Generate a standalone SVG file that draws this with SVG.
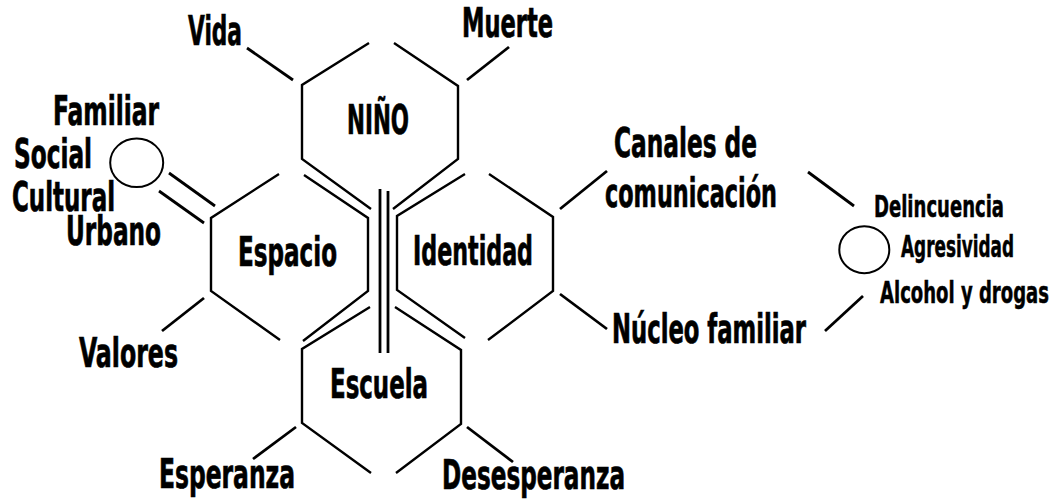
<svg xmlns="http://www.w3.org/2000/svg" width="1055" height="499" viewBox="0 0 1055 499">
<style>
.hx{fill:none;stroke:#000;stroke-width:2.4;stroke-linecap:butt;stroke-linejoin:miter}
.ln{fill:none;stroke:#000;stroke-width:2.8;stroke-linecap:butt}
.el{fill:#fff;stroke:#000;stroke-width:2}
.t{font-family:"Liberation Sans Narrow","DejaVu Sans Condensed","Liberation Sans",sans-serif;font-weight:bold;font-size:40px;fill:#000;stroke:#000;stroke-width:0.7}
.s{font-size:30px;stroke-width:0.5}
</style>
<rect width="1055" height="499" fill="#fff"/>
<g id="nino">
<path class="hx" d="M369,43 L302,85 L302,159 L371,209"/>
<path class="hx" d="M394,43 L458,86 L458,159 L393,209"/>
<text class="t" x="347" y="134" textLength="62" lengthAdjust="spacingAndGlyphs">NIÑO</text>
</g>
<g id="espacio">
<path class="hx" d="M279,174 L211,218 L211,291 L280,340"/>
<path class="hx" d="M304,175 L368,218 L368,291 L303,341"/>
<text class="t" x="238" y="266" textLength="99" lengthAdjust="spacingAndGlyphs">Espacio</text>
</g>
<g id="identidad">
<path class="hx" d="M465,174 L397,216 L397,290 L465,338"/>
<path class="hx" d="M489,174 L553,217 L553,291 L488,340"/>
<text class="t" x="413" y="265" textLength="120" lengthAdjust="spacingAndGlyphs">Identidad</text>
</g>
<g id="escuela">
<path class="hx" d="M370,307 L302,349 L302,423 L371,473"/>
<path class="hx" d="M395,307 L461,350 L461,424 L396,473"/>
<text class="t" x="330" y="398" textLength="98" lengthAdjust="spacingAndGlyphs">Escuela</text>
</g>
<g id="vida"><text class="t" x="188" y="45" textLength="54" lengthAdjust="spacingAndGlyphs">Vida</text></g>
<g id="muerte"><text class="t" x="462" y="37" textLength="91" lengthAdjust="spacingAndGlyphs">Muerte</text></g>
<g id="familiar"><text class="t" x="53" y="125" textLength="106" lengthAdjust="spacingAndGlyphs">Familiar</text></g>
<g id="social"><text class="t" x="14" y="168" textLength="78" lengthAdjust="spacingAndGlyphs">Social</text></g>
<g id="cultural"><text class="t" x="12" y="211" textLength="103" lengthAdjust="spacingAndGlyphs">Cultural</text></g>
<g id="urbano"><text class="t" x="66" y="245" textLength="95" lengthAdjust="spacingAndGlyphs">Urbano</text></g>
<g id="valores"><text class="t" x="79" y="367" textLength="99" lengthAdjust="spacingAndGlyphs">Valores</text></g>
<g id="esperanza"><text class="t" x="159" y="488" textLength="136" lengthAdjust="spacingAndGlyphs">Esperanza</text></g>
<g id="desesperanza"><text class="t" x="442" y="489" textLength="183" lengthAdjust="spacingAndGlyphs">Desesperanza</text></g>
<g id="canales">
<text class="t" x="614" y="157" textLength="143" lengthAdjust="spacingAndGlyphs">Canales de</text>
<text class="t" x="605" y="207" textLength="172" lengthAdjust="spacingAndGlyphs">comunicación</text>
</g>
<g id="nucleo"><text class="t" x="612" y="343" textLength="194" lengthAdjust="spacingAndGlyphs">Núcleo familiar</text></g>
<g id="delincuencia"><text class="t s" x="874" y="217" textLength="130" lengthAdjust="spacingAndGlyphs">Delincuencia</text></g>
<g id="agresividad"><text class="t s" x="901" y="257" textLength="113" lengthAdjust="spacingAndGlyphs">Agresividad</text></g>
<g id="alcohol"><text class="t s" x="880" y="303" textLength="169" lengthAdjust="spacingAndGlyphs">Alcohol y drogas</text></g>
<g id="circulo-izq"><ellipse class="el" cx="136.7" cy="162.8" rx="26.5" ry="24.3"/></g>
<g id="circulo-der"><ellipse class="el" cx="864.3" cy="249.7" rx="25" ry="23.5"/></g>
<g id="connectors">
<line class="ln" x1="380" y1="189" x2="380" y2="353"/>
<line class="ln" x1="388" y1="191" x2="388" y2="353"/>
<line class="ln" x1="247" y1="48" x2="293" y2="80"/>
<line class="ln" x1="467" y1="80" x2="509" y2="47"/>
<line class="ln" x1="169" y1="173" x2="215" y2="206"/>
<line class="ln" x1="159" y1="191" x2="204" y2="223"/>
<line class="ln" x1="162" y1="331" x2="204" y2="298"/>
<line class="ln" x1="253" y1="459" x2="296" y2="427"/>
<line class="ln" x1="467" y1="427" x2="513" y2="462"/>
<line class="ln" x1="560" y1="209" x2="607" y2="171"/>
<line class="ln" x1="560" y1="294" x2="607" y2="329"/>
<line class="ln" x1="808" y1="172" x2="854" y2="206"/>
<line class="ln" x1="825" y1="331" x2="863" y2="296"/>
</g>
</svg>
